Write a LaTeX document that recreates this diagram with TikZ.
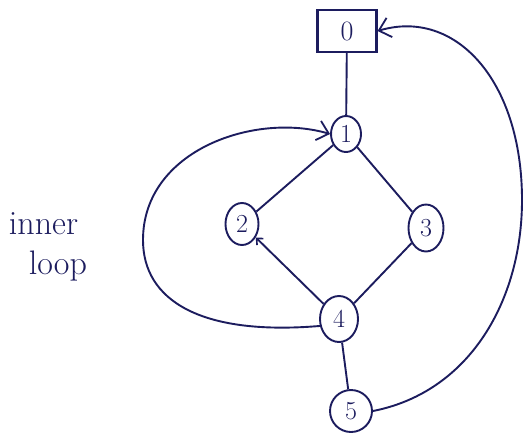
\documentclass[tikz,border=0pt]{standalone}
\usetikzlibrary{shapes.geometric,arrows.meta}
\definecolor{ink}{HTML}{1C1C5E}
\begin{document}
\begin{tikzpicture}[x=1pt,y=-1pt,
  every path/.style={draw=ink,line width=1.9pt},
  vnode/.style={ellipse,draw=ink,line width=1.9pt,inner sep=0pt,text=ink,font=\fontsize{26}{26}\selectfont},
  bignode/.style={rectangle,draw=ink,line width=2.1pt,inner sep=0pt,minimum width=59pt,minimum height=42pt,text=ink,font=\fontsize{28}{28}\selectfont},
  bigtip/.style={-{Straight Barb[length=11pt,width=20pt,line width=1.8pt]}},
  smalltip/.style={-{Straight Barb[length=5pt,width=9pt,line width=1.6pt]}},
  lbl/.style={text=ink,font=\fontsize{34}{40}\selectfont,align=left}]
\useasboundingbox[fill=white,draw=none] (0,0) rectangle (524,440);
\node[bignode] (n0) at (347,31) {0};
\node[vnode,minimum width=30pt,minimum height=36pt] (n1) at (346,134) {1};
\node[vnode,minimum width=33pt,minimum height=42pt] (n2) at (242,224) {2};
\node[vnode,minimum width=35pt,minimum height=47pt] (n3) at (426,228) {3};
\node[vnode,minimum width=38pt,minimum height=46pt] (n4) at (339,319) {4};
\node[vnode,minimum width=42pt,minimum height=42pt] (n5) at (351,411) {5};
\node[lbl,anchor=north west,inner sep=0pt] (txt) at (8,212) {inner\\\hspace*{20pt}loop};
\draw (n0) -- (n1);
\draw (n1) -- (n2);
\draw (n1) -- (n3);
\draw (n3) -- (n4);
\draw[smalltip] (n4) -- (n2);
\draw (n4) -- (n5);
\draw[bigtip] (n4.200) .. controls (200,336) and (143,300) .. (143,240)
  .. controls (143,150) and (255,112) .. (n1.west);
\draw[bigtip] (n5.east) .. controls (470,392) and (522,300) .. (522,200)
  .. controls (522,80) and (455,8) .. (n0.east);
\end{tikzpicture}
\end{document}
